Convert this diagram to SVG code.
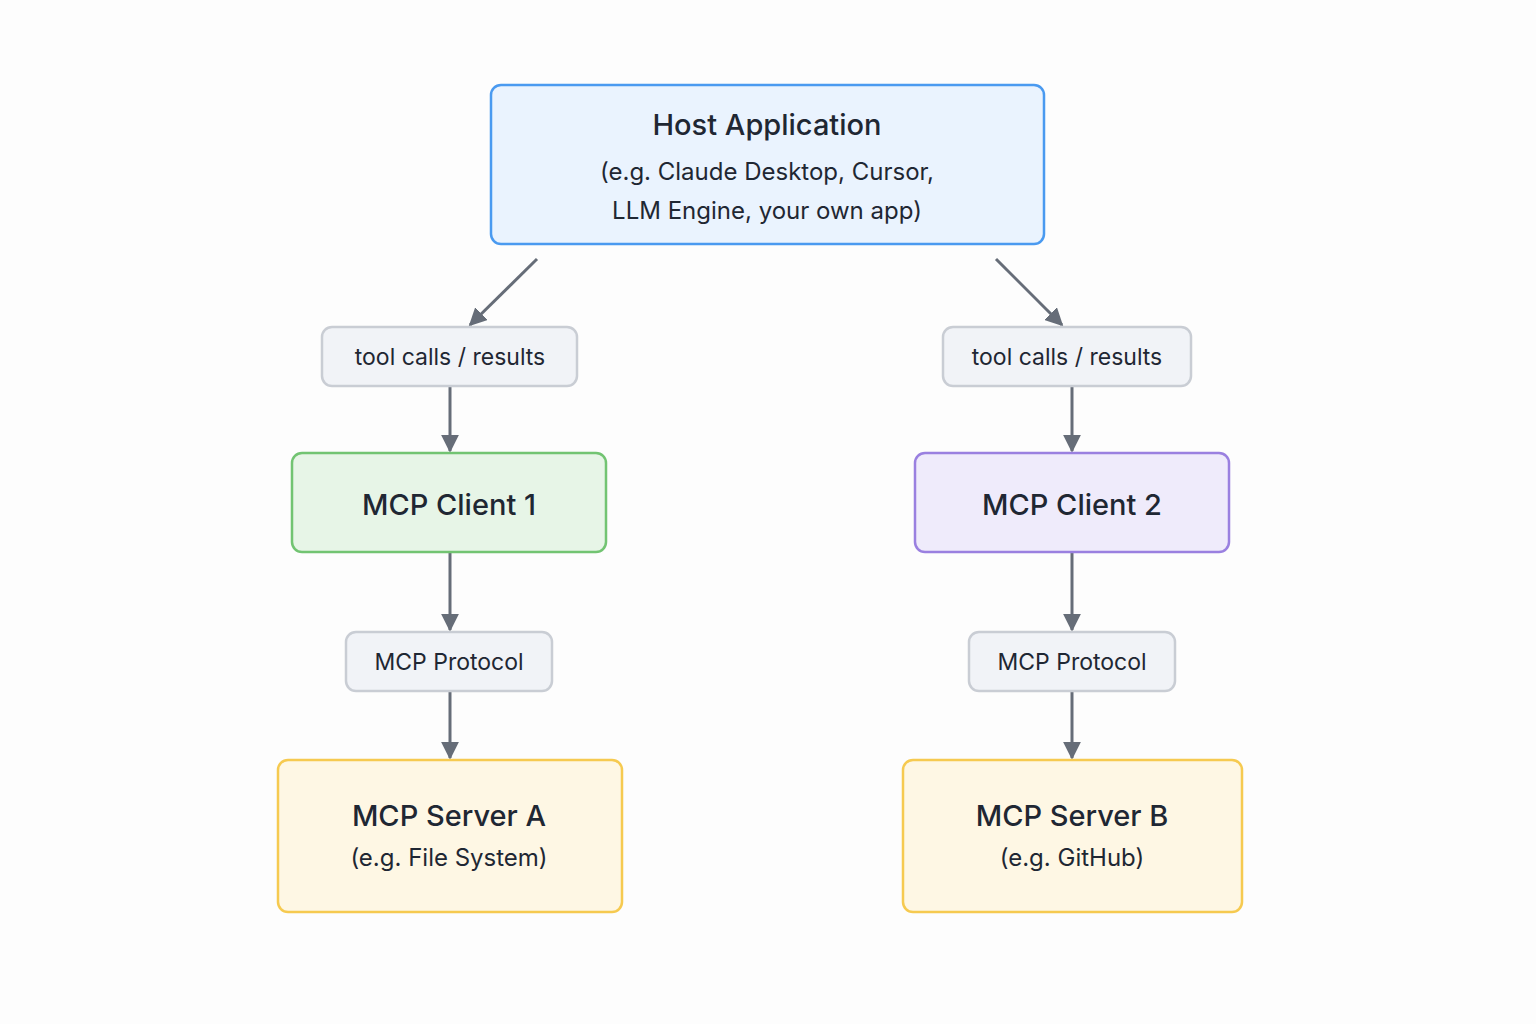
<svg xmlns="http://www.w3.org/2000/svg" width="1536" height="1024" viewBox="0 0 1536 1024">
<style>
text{font-family:Inter,"Noto Sans","Liberation Sans",sans-serif;fill:#1f2733;text-anchor:middle}
.t{font-size:29px;font-weight:500}
.s{font-size:24px}
.l{font-size:23px}
.lab{fill:#f1f3f7;stroke:#c9cdd4;stroke-width:2.5}
.c{stroke:#666d78;stroke-width:3;fill:none;marker-end:url(#a)}
</style>
<defs><marker id="a" viewBox="0 0 10 10" refX="9" refY="5" markerWidth="6" markerHeight="6" orient="auto" markerUnits="strokeWidth"><path d="M0,0L10,5L0,10z" fill="#666d78"/></marker></defs>
<rect width="1536" height="1024" fill="#fdfdfd"/>
<g id="connectors">
<line class="c" x1="537" y1="259" x2="470" y2="325"/>
<line class="c" x1="996" y1="259" x2="1062" y2="325"/>
<line class="c" x1="450" y1="387" x2="450" y2="451"/>
<line class="c" x1="1072" y1="387" x2="1072" y2="451"/>
<line class="c" x1="450" y1="553" x2="450" y2="630"/>
<line class="c" x1="1072" y1="553" x2="1072" y2="630"/>
<line class="c" x1="450" y1="692" x2="450" y2="758"/>
<line class="c" x1="1072" y1="692" x2="1072" y2="758"/>
</g>
<g id="host"><rect x="491" y="85" width="553" height="159" rx="10" fill="#eaf3fe" stroke="#4a9af0" stroke-width="2.5"/>
<text class="t" x="767" y="135">Host Application</text>
<text class="s" x="767" y="180">(e.g. Claude Desktop, Cursor,</text>
<text class="s" x="767" y="219">LLM Engine, your own app)</text></g>
<g id="lab1"><rect class="lab" x="322" y="327" width="255" height="59" rx="10"/><text class="l" x="450" y="365">tool calls / results</text></g>
<g id="lab2"><rect class="lab" x="943" y="327" width="248" height="59" rx="10"/><text class="l" x="1067" y="365">tool calls / results</text></g>
<g id="client1"><rect x="292" y="453" width="314" height="99" rx="10" fill="#e7f5e7" stroke="#72c472" stroke-width="2.5"/><text class="t" x="449" y="515">MCP Client 1</text></g>
<g id="client2"><rect x="915" y="453" width="314" height="99" rx="10" fill="#efebfb" stroke="#9a80e0" stroke-width="2.5"/><text class="t" x="1072" y="515">MCP Client 2</text></g>
<g id="proto1"><rect class="lab" x="346" y="632" width="206" height="59" rx="10"/><text class="l" x="449" y="670">MCP Protocol</text></g>
<g id="proto2"><rect class="lab" x="969" y="632" width="206" height="59" rx="10"/><text class="l" x="1072" y="670">MCP Protocol</text></g>
<g id="serverA"><rect x="278" y="760" width="344" height="152" rx="10" fill="#fef7e4" stroke="#f6ca50" stroke-width="2.5"/>
<text class="t" x="449" y="826">MCP Server A</text><text class="s" x="449" y="866">(e.g. File System)</text></g>
<g id="serverB"><rect x="903" y="760" width="339" height="152" rx="10" fill="#fef7e4" stroke="#f6ca50" stroke-width="2.5"/>
<text class="t" x="1072" y="826">MCP Server B</text><text class="s" x="1072" y="866">(e.g. GitHub)</text></g>
</svg>
